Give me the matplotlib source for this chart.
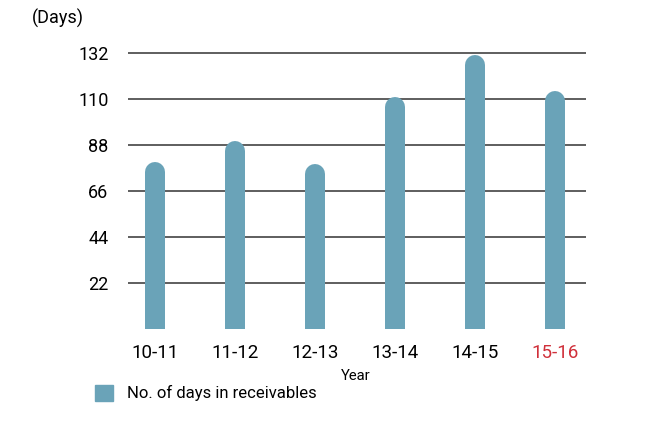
import matplotlib.pyplot as plt
import numpy as np
from matplotlib.patches import Patch

years = ["10-11", "11-12", "12-13", "13-14", "14-15", "15-16"]
days = [80, 90, 79, 111, 131, 114]
yticks = [22, 44, 66, 88, 110, 132]

BAR = "#6aa3b8"
plt.rcParams["font.family"] = ["Roboto", "DejaVu Sans"]

fig = plt.figure(figsize=(6.64, 4.29), dpi=100)
ax = fig.add_axes([128 / 664, 100 / 429, 458 / 664, 292.6 / 429])
ax.set_xlim(-0.3375, 5.39)
ax.set_ylim(0, 140)

for y in yticks:
    ax.axhline(y, color="#333333", lw=1.1, zorder=1)

# rounded-top bars: thick lines with round caps, shortened by the cap radius
bar_px = 20
x = np.arange(len(years))
r = bar_px / 2 * (140 / ax.get_window_extent().height) * fig.dpi / 100
for xi, v in zip(x, days):
    ax.plot([xi, xi], [-10, v - r], color=BAR, lw=bar_px * 72 / fig.dpi,
            solid_capstyle="round", zorder=2)

ax.set_yticks(yticks)
ax.set_yticklabels([str(t) for t in yticks], fontsize=13)
ax.set_xticks(x)
ax.set_xticklabels(years, fontsize=13.5)
ax.get_xticklabels()[-1].set_color("#d0303a")
ax.tick_params(length=0, pad=14, axis="y")
ax.tick_params(length=0, pad=11, axis="x")
for s in ax.spines.values():
    s.set_visible(False)

ax.set_xlabel("Year", fontsize=10.7)
ax.xaxis.set_label_coords((356 - 128) / 458, -40 / 292.6)
fig.text(32 / 664, 1 - 18 / 429, "(Days)", fontsize=13, va="center", ha="left")

ax.legend(handles=[Patch(color=BAR, label="No. of days in receivables")],
          loc="center left", bbox_to_anchor=(80 / 664, 1 - 393 / 429),
          bbox_transform=fig.transFigure, frameon=False, fontsize=12,
          handlelength=1.1, handleheight=1.1, handletextpad=0.8)

fig.savefig("out.png", dpi=100)
